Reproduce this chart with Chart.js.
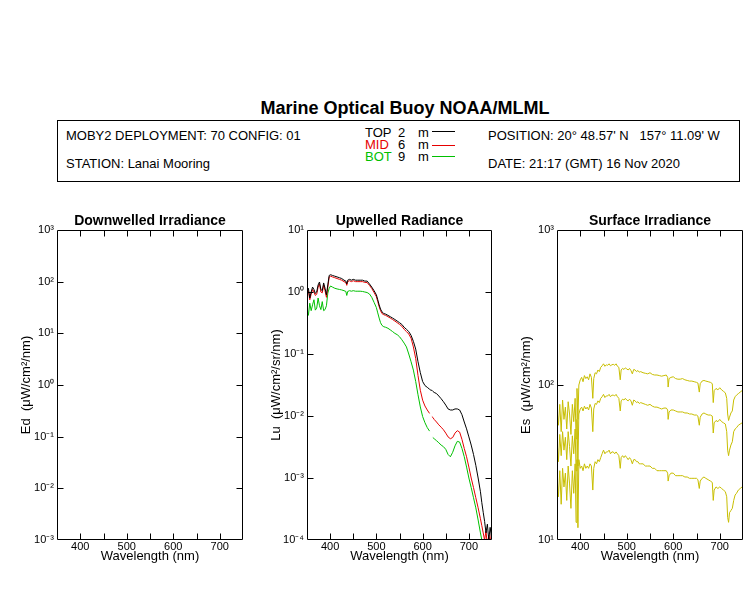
<!DOCTYPE html>
<html>
<head>
<meta charset="utf-8">
<script src="https://cdn.jsdelivr.net/npm/chart.js@4.4.1/dist/chart.umd.min.js"></script>
<style>
  html, body { margin:0; padding:0; background:#fff; }
  body { width:750px; height:600px; position:relative; overflow:hidden;
         font-family:"Liberation Sans", Arial, Helvetica, sans-serif; color:#000; }
  .t { position:absolute; white-space:nowrap; font-size:13px; line-height:16px; }
  #mainTitle { position:absolute; left:205px; width:400px; top:98px; text-align:center;
               font-weight:bold; font-size:18px; line-height:20px; }
  #infoBox { position:absolute; left:57px; top:120px; width:683px; height:62px;
             box-sizing:border-box; border:1px solid #000; }
  .lg { position:absolute; height:1px; width:23px; left:432px; }
  .panel { position:absolute; top:200px; width:250px; height:400px; }
</style>
</head>
<body>
<div id="mainTitle">Marine Optical Buoy NOAA/MLML</div>
<div id="infoBox"></div>
<div class="t" style="left:66px;top:128px;">MOBY2 DEPLOYMENT: 70 CONFIG: 01</div>
<div class="t" style="left:66px;top:156px;">STATION: Lanai Mooring</div>
<div class="t" style="left:365px;top:125px;">TOP</div>
<div class="t" style="left:398px;top:125px;">2</div>
<div class="t" style="left:418px;top:125px;">m</div>
<div class="t" style="left:365px;top:137px;color:#e60000;">MID</div>
<div class="t" style="left:398px;top:137px;">6</div>
<div class="t" style="left:418px;top:137px;">m</div>
<div class="t" style="left:365px;top:149px;color:#00c000;">BOT</div>
<div class="t" style="left:398px;top:149px;">9</div>
<div class="t" style="left:418px;top:149px;">m</div>
<div class="lg" style="top:131px;background:#000;"></div>
<div class="lg" style="top:145px;background:#e60000;"></div>
<div class="lg" style="top:156px;background:#00c000;"></div>
<div class="t" style="left:488px;top:128px;">POSITION: 20° 48.57' N&nbsp;&nbsp;&nbsp;157° 11.09' W</div>
<div class="t" style="left:488px;top:156px;">DATE: 21:17 (GMT) 16 Nov 2020</div>

<div class="panel" style="left:0px;"><canvas id="edChart" width="250" height="400"></canvas></div>
<div class="panel" style="left:250px;"><canvas id="luChart" width="250" height="400"></canvas></div>
<div class="panel" style="left:500px;"><canvas id="esChart" width="250" height="400"></canvas></div>

<script>
// ---------------- data ----------------
const xTicks = [350, 400, 450, 500, 550, 600, 650, 700, 750];
const xTickLabels = ['', '400', '', '500', '', '600', '', '700', ''];
const edTicks = [1e-3, 1e-2, 1e-1, 1, 10, 100, 1000];
const luTicks = [1e-4, 1e-3, 1e-2, 1e-1, 1, 10];
const esTicks = [10, 100, 1000];

// Upwelled radiance (Lu) wavelengths, nm
const luWave = [350,353,356,359,362,365,368,371,374,377,
  380,383,386,389,392,395,398,401,405,410,
  415,420,425,430,434,436,438,442,446,450,
  455,460,465,470,475,480,485,490,495,500,
  503,506,509,512,516,520,525,530,535,540,
  545,550,555,560,565,570,575,580,585,590,
  595,600,605,610,615,618,620,622,625,630,
  635,640,645,650,655,660,665,670,675,680,
  685,690,695,700,705,710,715,720,725,728,
  731,734,737,740,743,746,749];

const luTop = [1.05,1.15,0.8,1.0,1.2,1.1,0.95,1.0,1.3,1.45,
  1.1,1.05,1.4,1.15,0.9,1.3,1.85,1.9,1.85,1.8,
  1.75,1.7,1.65,1.55,1.5,1.35,1.55,1.6,1.55,1.6,
  1.55,1.55,1.55,1.55,1.5,1.5,1.35,1.2,1.05,0.9,
  0.75,0.62,0.53,0.48,0.45,0.44,0.42,0.4,0.38,0.36,
  0.34,0.32,0.3,0.27,0.25,0.23,0.2,0.16,0.12,0.075,
  0.05,0.036,0.031,0.029,0.027,0.026,0.026,0.025,0.024,0.023,
  0.021,0.019,0.017,0.015,0.013,0.0125,0.0125,0.013,0.013,0.0125,
  0.0105,0.008,0.0062,0.0046,0.0034,0.0024,0.0016,0.001,0.0006,0.0004,
  0.00028,0.0002,0.00013,0.00018,0.0001,0.00016,0.00011];

const luMid = [0.95,1.05,0.75,0.92,1.1,1.0,0.88,0.92,1.2,1.35,
  1.0,0.97,1.3,1.05,0.82,1.2,1.75,1.8,1.75,1.7,
  1.65,1.6,1.55,1.47,1.42,1.28,1.47,1.52,1.47,1.52,
  1.47,1.47,1.47,1.47,1.43,1.42,1.28,1.14,0.98,0.84,
  0.7,0.58,0.5,0.45,0.43,0.42,0.4,0.38,0.36,0.34,
  0.32,0.3,0.28,0.25,0.23,0.21,0.18,0.13,0.085,0.045,
  0.026,0.018,0.0145,0.0125,0.011,null,0.0098,0.0095,0.0088,0.008,
  0.0072,0.0066,0.006,0.0053,0.0046,0.0043,0.0045,0.0053,0.0058,0.0055,
  0.0042,0.003,0.0022,0.0015,0.001,0.0007,0.00048,0.00033,0.00022,0.00017,
  0.00013,0.0001,0.00014,0.00008,0.00012,0.00009,0.00013];

const luBot = [0.57,0.42,0.66,0.5,0.62,0.75,0.51,0.55,0.8,0.6,
  0.52,0.7,0.5,0.52,0.6,0.96,1.15,1.25,1.2,1.15,
  1.12,1.1,1.08,1.05,1.02,0.88,1.02,1.05,1.03,1.05,
  1.03,1.03,1.03,1.02,1.0,0.98,0.93,0.82,0.68,0.56,
  0.46,0.38,0.32,0.29,0.275,0.27,0.26,0.245,0.23,0.215,
  0.205,0.19,0.17,0.15,0.13,0.1,0.075,0.055,0.036,0.022,
  0.014,0.0098,0.0078,0.0065,0.0057,null,null,0.0045,0.0043,0.004,
  0.0037,0.0034,0.0032,0.0029,0.0024,0.0022,0.0026,0.0033,0.0039,0.0038,
  0.003,0.0022,0.0015,0.001,0.0007,0.00048,0.00033,0.00021,0.00013,0.0001,
  0.00007,0.00009,0.00006,0.00005,0.00004,0.00004,0.00004];

// Surface irradiance (Es) wavelengths, nm
const esWave = [350,353,356,359,362,365,368,371,374,377,
  380,383,386,389,391,393,395,397,400,403,
  406,409,412,415,418,421,424,427,429,432,
  435,438,441,444,447,450,453,456,459,462,
  465,468,471,474,477,480,483,486,488,491,
  494,497,500,503,506,509,512,515,518,521,
  524,527,530,535,540,545,550,555,560,565,
  570,575,580,585,588,589,591,595,600,605,
  610,615,620,625,630,635,640,645,650,653,
  656,658,662,666,670,675,680,684,686,688,
  692,696,700,704,708,712,715,717,719,721,
  724,727,730,733,736,740,744,748,750];

const esHigh = [70,55,75,50,80,60,72,52,78,65,
  48,75,58,82,45,95,60,100,108,112,
  105,115,110,113,108,118,112,82,110,120,
  118,125,122,130,133,137,132,135,134,137,
  133,135,136,134,137,132,130,108,125,128,
  126,129,127,125,128,124,118,126,125,122,
  124,121,122,120,119,118,120,117,116,116,
  115,114,115,116,112,97,110,112,113,110,
  109,109,110,108,107,106,106,105,104,103,
  90,102,106,107,106,105,104,102,77,92,
  95,93,96,93,91,89,82,65,59,62,
  66,68,80,84,86,88,90,92,92];

const esMid = [45,32,48,35,50,38,46,33,50,40,
  30,47,36,52,28,60,30,65,70,72,
  68,73,70,72,69,75,71,50,70,76,
  75,79,77,82,84,87,83,85,85,87,
  84,86,86,85,87,84,82,68,79,81,
  80,82,80,79,81,79,74,80,79,77,
  78,76,77,76,75,74,75,73,72,72,
  71,70,71,71,69,60,67,69,69,68,
  67,67,67,66,66,65,65,64,64,63,
  55,62,65,66,65,64,64,63,49,57,
  59,58,60,58,57,56,50,38,35,38,
  41,43,50,52,53,55,56,57,57];

const esLow = [26,19,28,17,29,22,27,18,30,23,
  16,28,20,31,13,33,12,33,29,30,
  28,31,29,30,29,31,30,21,29,32,
  31,33,32,34,36,38,36,37,37,38,
  36,37,37,36,37,36,35,29,34,35,
  34,35,34,33,34,33,31,33,33,32,
  32,31,31,31,30,30,30,29,29,28,
  28,28,28,28,27,24,26,27,27,26,
  26,26,26,25.5,25.5,25,25,25,25,24.5,
  21.5,24,25,25.5,25,24.5,24,23.5,18,21,
  22,21.5,22,21.5,21,20.5,19,14,13,15,
  15.5,16,18,19.5,20,21,21.5,22,22];

// ---------------- helpers ----------------
const FONT = '"Liberation Sans", Arial, Helvetica, sans-serif';
Chart.defaults.font.family = FONT;
Chart.defaults.color = '#000';

const SUP = {'-':'\u207B','0':'\u2070','1':'\u00B9','2':'\u00B2','3':'\u00B3','4':'\u2074',
             '5':'\u2075','6':'\u2076','7':'\u2077','8':'\u2078','9':'\u2079'};
function decadeLabel(v) {
  const e = Math.round(Math.log10(v));
  return '10' + String(e).split('').map(c => SUP[c]).join('');
}
function pairs(xs, ys) { return xs.map((x, i) => ({x: x, y: ys[i]})); }

const frameTicks = {
  id: 'frameTicks',
  afterDraw(chart) {
    const {ctx, chartArea: a} = chart;
    const xs = chart.scales.x, ys = chart.scales.y;
    const L = Math.round(a.left) + 0.5, R = Math.round(a.right) - 0.5;
    const T = Math.round(a.top) + 0.5, B = Math.round(a.bottom) - 0.5;
    ctx.save();
    ctx.strokeStyle = '#000';
    ctx.lineWidth = 1;
    ctx.beginPath();
    xs.ticks.forEach(t => {
      if (t.value <= xs.min || t.value >= xs.max) return;
      const p = Math.round(xs.getPixelForValue(t.value)) + 0.5;
      ctx.moveTo(p, B); ctx.lineTo(p, B - 6);
      ctx.moveTo(p, T); ctx.lineTo(p, T + 6);
    });
    ys.ticks.forEach(t => {
      if (t.value <= ys.min * 1.0001 || t.value >= ys.max * 0.9999) return;
      const p = Math.round(ys.getPixelForValue(t.value)) + 0.5;
      ctx.moveTo(L, p); ctx.lineTo(L + 6, p);
      ctx.moveTo(R, p); ctx.lineTo(R - 6, p);
    });
    ctx.stroke();
    ctx.beginPath();
    ctx.rect(L, T, R - L, B - T);
    ctx.stroke();
    ctx.restore();
  }
};

function makePanel(id, title, yTitle, yMin, yMax, yTicks, datasets, padRight) {
  return new Chart(document.getElementById(id), {
    type: 'line',
    data: { datasets: datasets },
    options: {
      responsive: false,
      animation: false,
      devicePixelRatio: 1,
      layout: { padding: { left: 0, right: padRight, top: 0, bottom: 0 } },
      elements: { point: { radius: 0 }, line: { borderWidth: 1, tension: 0 } },
      plugins: {
        legend: { display: false },
        tooltip: { enabled: false },
        title: {
          display: true, text: title, fullSize: false, color: '#000',
          font: { family: FONT, size: 14, weight: 'bold', lineHeight: 1.2 },
          padding: { top: 13, bottom: 0.2 }
        }
      },
      scales: {
        x: {
          type: 'linear', min: 350, max: 750,
          afterBuildTicks: s => { s.ticks = xTicks.map(v => ({ value: v })); },
          ticks: {
            autoSkip: false, maxRotation: 0, padding: 0, color: '#000',
            font: { family: FONT, size: 11, lineHeight: 1.2 },
            callback: (v, i) => xTickLabels[i]
          },
          grid: { display: false, drawTicks: false },
          border: { display: false },
          title: {
            display: true, text: 'Wavelength (nm)', color: '#000',
            font: { family: FONT, size: 13, lineHeight: 1.2 },
            padding: { top: 0, bottom: 36 }
          },
          afterFit: s => { s.height = 60; }
        },
        y: {
          type: 'logarithmic', min: yMin, max: yMax,
          afterBuildTicks: s => { s.ticks = yTicks.map(v => ({ value: v })); },
          ticks: {
            autoSkip: false, padding: 3, color: '#000',
            font: { family: FONT, size: 11, lineHeight: 1.2 },
            callback: v => decadeLabel(v)
          },
          grid: { display: false, drawTicks: false },
          border: { display: false },
          title: {
            display: true, text: yTitle, color: '#000',
            font: { family: FONT, size: 13, lineHeight: 1.2 },
            padding: { top: 19, bottom: 0 }
          },
          afterFit: s => { s.width = 57; }
        }
      }
    },
    plugins: [frameTicks]
  });
}

const ES_COLOR = '#c8be00';

makePanel('edChart', 'Downwelled Irradiance', 'Ed  (\u03BCW/cm\u00B2/nm)', 1e-3, 1e3, edTicks, [], 7);

makePanel('luChart', 'Upwelled Radiance', 'Lu  (\u03BCW/cm\u00B2/sr/nm)', 1e-4, 10, luTicks, [
  { label: 'TOP 2 m', data: pairs(luWave, luTop), borderColor: '#000000' },
  { label: 'MID 6 m', data: pairs(luWave, luMid), borderColor: '#e60000' },
  { label: 'BOT 9 m', data: pairs(luWave, luBot), borderColor: '#00c000' }
], 8);

makePanel('esChart', 'Surface Irradiance', 'Es  (\u03BCW/cm\u00B2/nm)', 10, 1000, esTicks, [
  { label: 'Es high', data: pairs(esWave, esHigh), borderColor: ES_COLOR },
  { label: 'Es mid', data: pairs(esWave, esMid), borderColor: ES_COLOR },
  { label: 'Es low', data: pairs(esWave, esLow), borderColor: ES_COLOR }
], 7);
</script>
</body>
</html>
